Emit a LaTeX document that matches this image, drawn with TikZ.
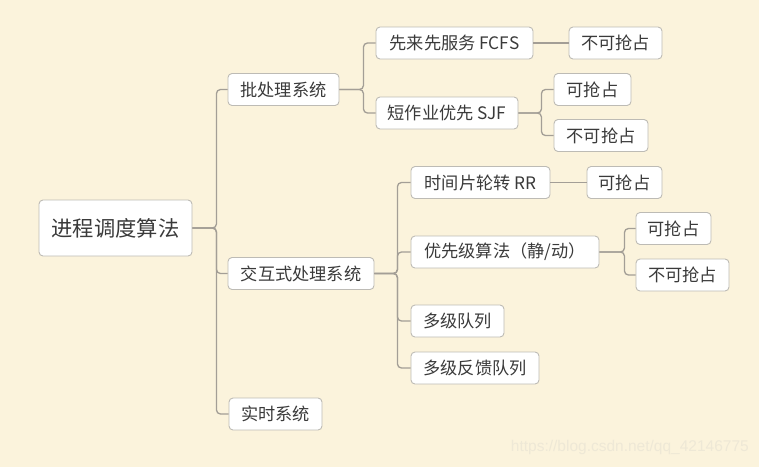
\documentclass[tikz,border=0pt]{standalone}
\usepackage{fontspec}
\setmainfont{Noto Sans CJK SC}
\newfontfamily\wmfont{Liberation Sans}
\definecolor{bg}{HTML}{FBF3DC}
\definecolor{boxline}{HTML}{BDBBB5}
\definecolor{conn}{HTML}{A39E96}
\definecolor{txt}{HTML}{3A3A3A}
\definecolor{wm}{HTML}{EEE8D6}
\begin{document}
\begin{tikzpicture}[x=1pt,y=-1pt,
  box/.style={draw=boxline,line width=0.9pt,fill=white,rounded corners=4pt,
    minimum height=32pt,inner sep=0pt,text=txt,font=\fontsize{17.2}{19}\selectfont},
  rootbox/.style={box,minimum height=56pt,font=\fontsize{21.3}{24}\selectfont},
  link/.style={draw=conn,line width=1.3pt,rounded corners=4pt}]
\fill[bg] (0,0) rectangle (759,467);
\useasboundingbox (0,0) rectangle (759,467);
% nodes
\node[rootbox,minimum width=153pt] (root) at (115.5,228) {进程调度算法};
\node[box,minimum width=111pt] (batch) at (283.5,89.5) {批处理系统};
\node[box,minimum width=146pt] (inter) at (301,273.5) {交互式处理系统};
\node[box,minimum width=93pt] (real) at (275.5,414) {实时系统};
\node[box,minimum width=157pt] (fcfs) at (454.5,43) {先来先服务 FCFS};
\node[box,minimum width=142pt] (sjf) at (447,113) {短作业优先 SJF};
\node[box,minimum width=93pt] (fcfsn) at (615.5,43) {不可抢占};
\node[box,minimum width=77pt] (sjfp) at (592.5,89.5) {可抢占};
\node[box,minimum width=94pt] (sjfn) at (601,135.5) {不可抢占};
\node[box,minimum width=139pt] (rr) at (480.5,182.5) {时间片轮转 RR};
\node[box,minimum width=75pt] (rrp) at (624.5,182.5) {可抢占};
\node[box,minimum width=188pt] (prio) at (505,252) {优先级算法（静/动）};
\node[box,minimum width=75pt] (priop) at (673.5,228.5) {可抢占};
\node[box,minimum width=93pt] (prion) at (682.5,275) {不可抢占};
\node[box,minimum width=93pt] (mlq) at (457.5,321) {多级队列};
\node[box,minimum width=128pt] (mlfq) at (475,368) {多级反馈队列};
% connectors
\foreach \c in {batch,inter,real}
  \draw[link] (root.east) -- ([xshift=24pt]root.east) |- (\c.west);
\foreach \c in {fcfs,sjf}
  \draw[link] (batch.east) -- ([xshift=24pt]batch.east) |- (\c.west);
\foreach \c in {rr,prio,mlq,mlfq}
  \draw[link] (inter.east) -- ([xshift=23pt]inter.east) |- (\c.west);
\foreach \c in {sjfp,sjfn}
  \draw[link] (sjf.east) -- ([xshift=23pt]sjf.east) |- (\c.west);
\foreach \c in {priop,prion}
  \draw[link] (prio.east) -- ([xshift=25pt]prio.east) |- (\c.west);
\draw[link] (fcfs.east) -- (fcfsn.west);
\draw[link] (rr.east) -- (rrp.west);
% watermark
\node[text=wm,font=\wmfont\fontsize{15.5}{18}\selectfont,anchor=east,inner sep=0pt] (wmark) at (749,447) {https://blog.csdn.net/qq\_42146775};
\end{tikzpicture}
\end{document}
